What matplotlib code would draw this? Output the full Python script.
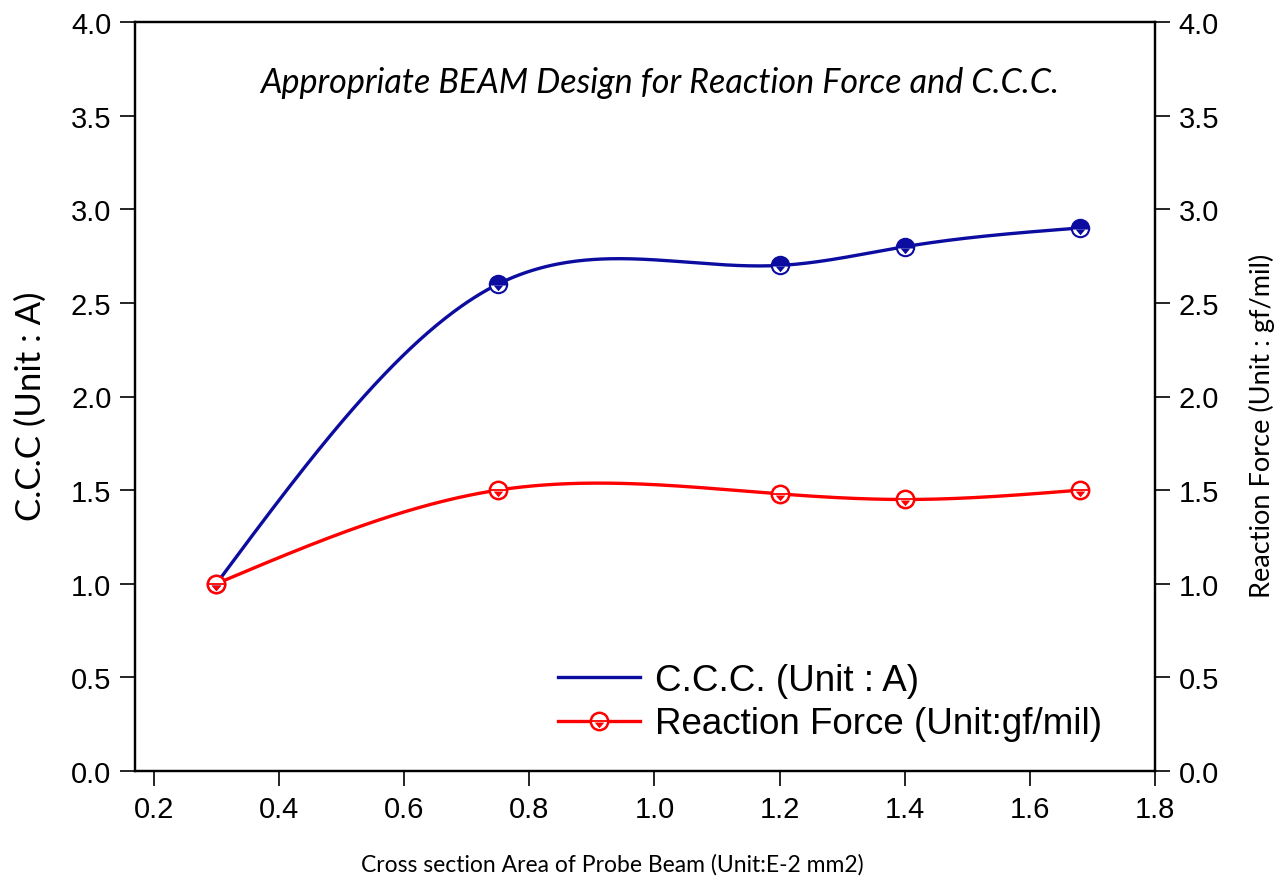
import matplotlib
matplotlib.use('Agg')
import matplotlib.pyplot as plt
import numpy as np
from matplotlib.path import Path
from matplotlib.lines import Line2D
from matplotlib.legend_handler import HandlerTuple

# data
area = np.array([0.3, 0.75, 1.2, 1.4, 1.68])
ccc = np.array([1.0, 2.6, 2.7, 2.8, 2.9])
force = np.array([1.0, 1.5, 1.48, 1.45, 1.5])

BLUE = '#0c0ca0'
RED = '#ff0000'
COND = 'Lato'
ARIAL = 'Liberation Sans'


def natural_spline(x, y, xs):
    # smooth connecting line like the original software draws
    n = len(x)
    h = np.diff(x)
    A = np.zeros((n, n))
    r = np.zeros(n)
    A[0, 0] = A[-1, -1] = 1
    for i in range(1, n - 1):
        A[i, i - 1] = h[i - 1]
        A[i, i] = 2 * (h[i - 1] + h[i])
        A[i, i + 1] = h[i]
        r[i] = 3 * ((y[i + 1] - y[i]) / h[i] - (y[i] - y[i - 1]) / h[i - 1])
    c = np.linalg.solve(A, r)
    b = (y[1:] - y[:-1]) / h - h * (2 * c[:-1] + c[1:]) / 3
    d = (c[1:] - c[:-1]) / (3 * h)
    idx = np.clip(np.searchsorted(x, xs) - 1, 0, n - 2)
    dx = xs - x[idx]
    return y[idx] + b[idx] * dx + c[idx] * dx ** 2 + d[idx] * dx ** 3


# triangle in lower half of the circle marker (dummy moveto keeps the scale)
tri = Path([(0, 1), (-0.55, -0.12), (0.55, -0.12), (0, -0.78), (0, 0)],
           [Path.MOVETO, Path.MOVETO, Path.LINETO, Path.LINETO, Path.CLOSEPOLY])

fig = plt.figure(figsize=(12.79, 8.87), dpi=100)
ax = fig.add_axes([135 / 1279, 1 - 772 / 887, 1020 / 1279, 749 / 887])

xs = np.linspace(area[0], area[-1], 400)
ax.plot(xs, natural_spline(area, ccc, xs), color=BLUE, lw=2.4, zorder=2)
ax.plot(xs, natural_spline(area, force, xs), color=RED, lw=2.4, zorder=2)

ms = 12.5
# C.C.C. markers
ax.plot(area, ccc, ls='none', marker='o', ms=ms, fillstyle='top', color=BLUE,
        markerfacecoloralt='white', mew=1.5, zorder=3)
ax.plot(area, ccc, ls='none', marker=tri, ms=ms, color=BLUE, mew=0, zorder=4)
# reaction force markers
ax.plot(area, force, ls='none', marker='o', ms=ms, mfc='white', mec=RED, mew=1.8, zorder=3)
ax.plot(area, force, ls='none', marker='_', ms=ms, mec=RED, mew=1.3, zorder=4)
ax.plot(area, force, ls='none', marker=tri, ms=ms, color=RED, mew=0, zorder=4)

ax.set_xlim(0.17, 1.8)
ax.set_ylim(0, 4)
ax.set_xticks(np.arange(0.2, 1.81, 0.2))
ax.set_yticks(np.arange(0, 4.01, 0.5))
ax.xaxis.set_major_formatter(plt.FormatStrFormatter('%.1f'))
ax.yaxis.set_major_formatter(plt.FormatStrFormatter('%.1f'))

for s in ax.spines.values():
    s.set_linewidth(1.6)
ax.tick_params(direction='out', length=11, width=1.2, pad=6, labelsize=21,
               top=False, right=False)
for lab in ax.get_xticklabels() + ax.get_yticklabels():
    lab.set_fontfamily(ARIAL)

ax2 = ax.twinx()
ax2.set_ylim(0, 4)
ax2.set_yticks(np.arange(0, 4.01, 0.5))
ax2.yaxis.set_major_formatter(plt.FormatStrFormatter('%.1f'))
ax2.tick_params(direction='out', length=11, width=1.2, pad=6, labelsize=21)
for lab in ax2.get_yticklabels():
    lab.set_fontfamily(ARIAL)
for s in ax2.spines.values():
    s.set_linewidth(1.6)

ax.set_ylabel('C.C.C (Unit : A)', fontsize=25, family=COND)
ax.yaxis.set_label_coords(-0.086, 0.488)
ax2.set_ylabel('Reaction Force (Unit : gf/mil)', fontsize=19.5, family=COND)
ax2.yaxis.set_label_coords(1.092, 0.462)
fig.text(612 / 1279, 1 - 865 / 887, 'Cross section Area of Probe Beam (Unit:E-2 mm2)',
         ha='center', va='center', fontsize=16.5, family=COND)
ax.text(0.514, 0.92, 'Appropriate BEAM Design for Reaction Force and C.C.C.',
        transform=ax.transAxes, ha='center', va='center', fontsize=24.6,
        family=COND, style='italic')

h_ccc = Line2D([], [], color=BLUE, lw=2.4)
h_rf = (Line2D([], [], color=RED, lw=2.4),
        Line2D([], [], ls='none', marker='o', ms=ms, mfc='white', mec=RED, mew=1.8),
        Line2D([], [], ls='none', marker='_', ms=ms, mec=RED, mew=1.3),
        Line2D([], [], ls='none', marker=tri, ms=ms, color=RED, mew=0))
ax.legend([h_ccc, h_rf], ['C.C.C. (Unit : A)', 'Reaction Force (Unit:gf/mil)'],
          handler_map={tuple: HandlerTuple(ndivide=1)},
          loc='upper left', bbox_to_anchor=(558 / 1279, 1 - 664 / 887),
          bbox_transform=fig.transFigure, frameon=False, borderpad=0,
          borderaxespad=0, handlelength=2.23, handletextpad=0.4,
          labelspacing=0.23, prop={'family': ARIAL, 'size': 26.5})

fig.savefig('out.png', dpi=100)
